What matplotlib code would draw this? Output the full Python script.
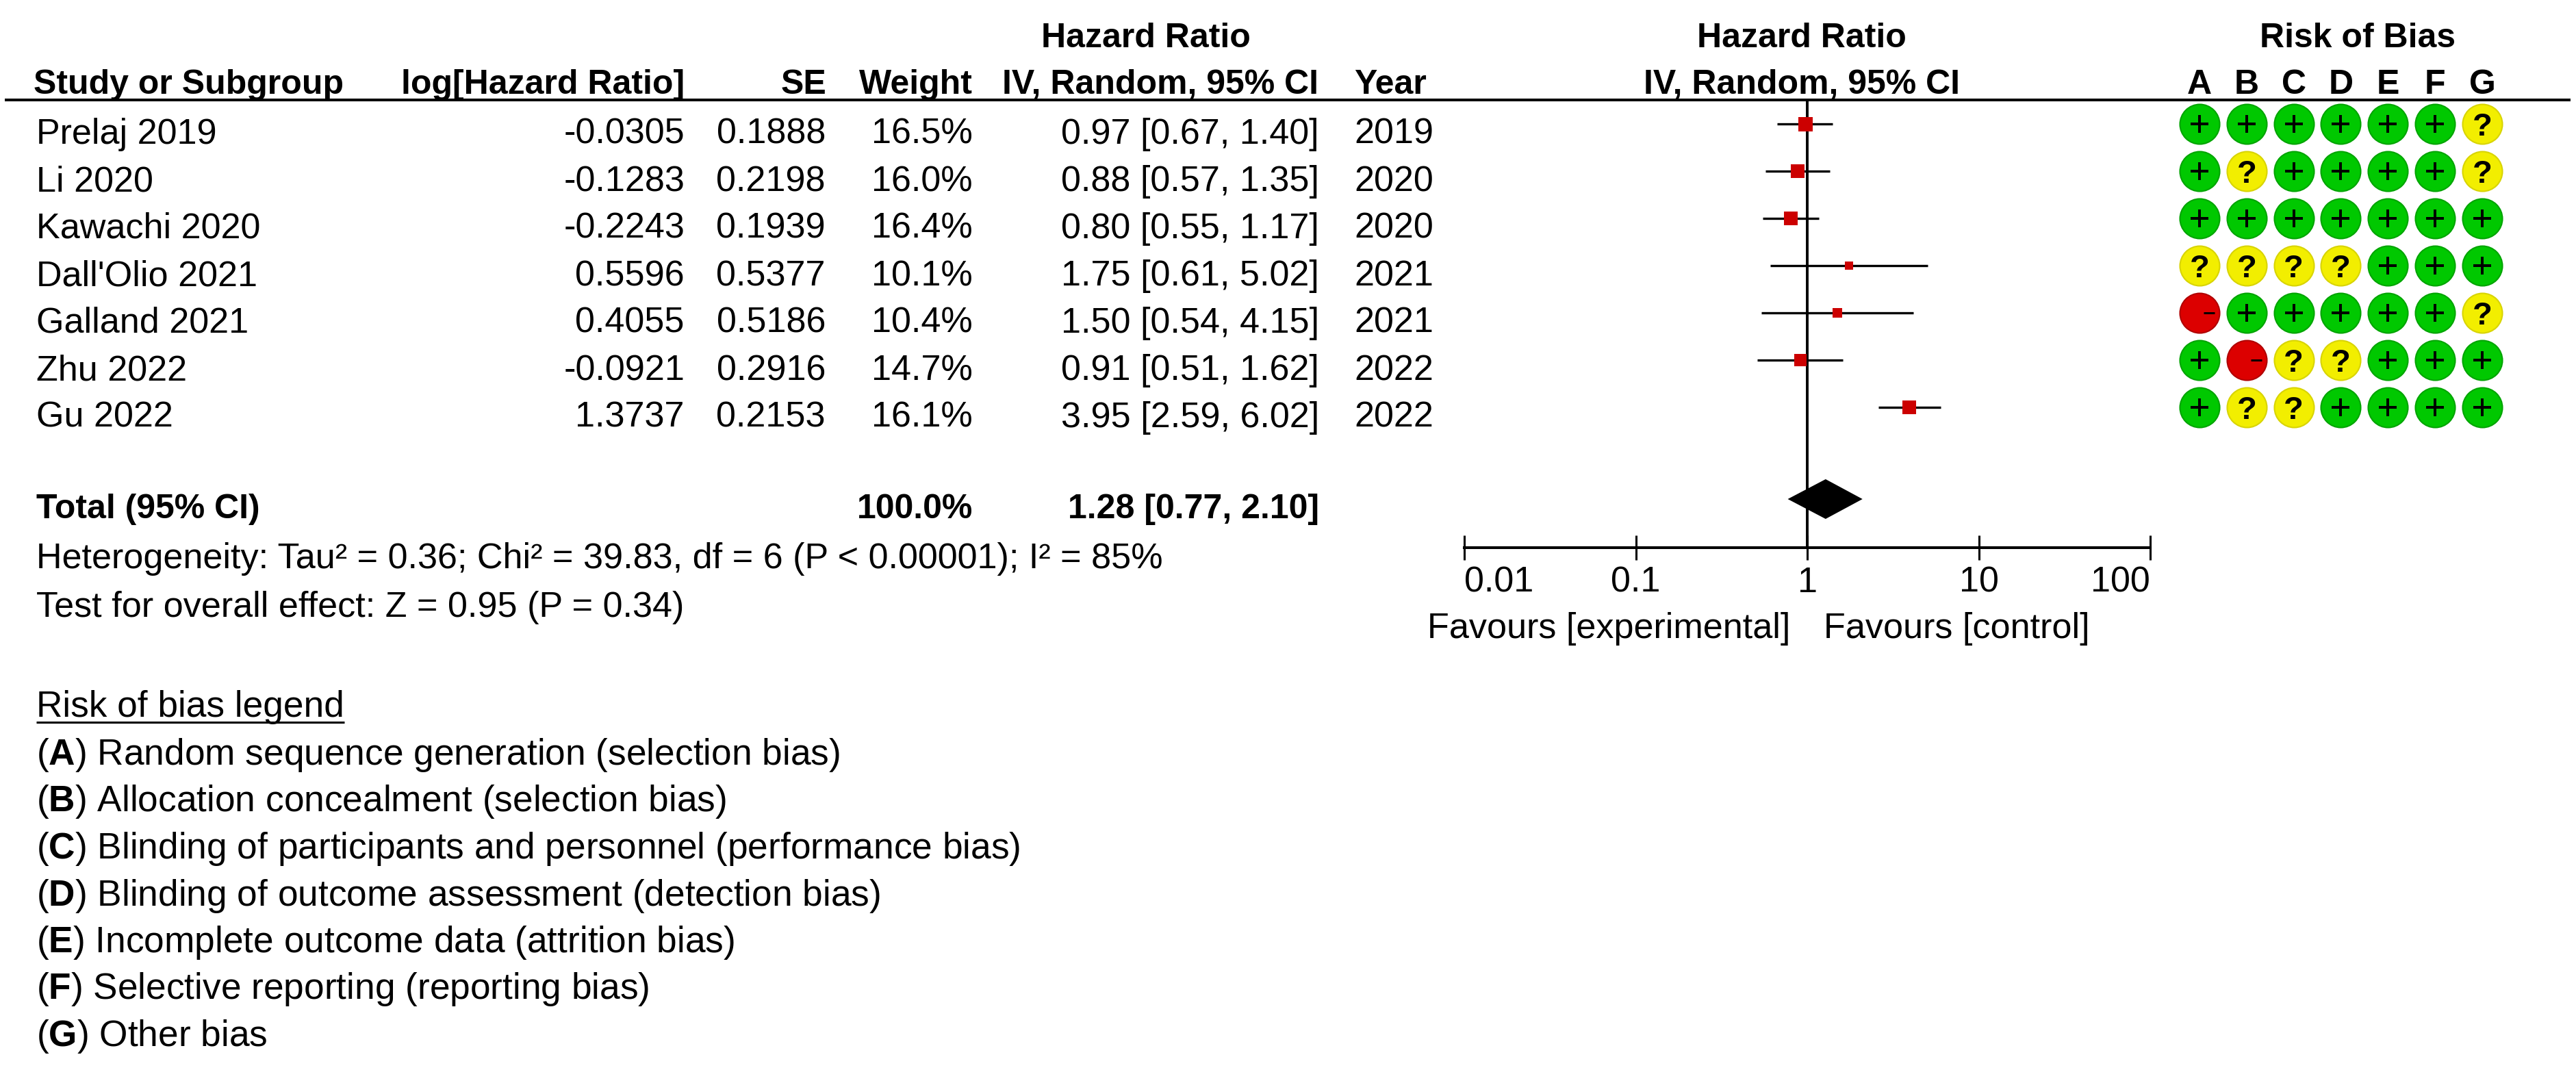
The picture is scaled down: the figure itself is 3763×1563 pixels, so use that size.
import matplotlib
matplotlib.use("Agg")
import matplotlib.pyplot as plt
from matplotlib.ticker import NullLocator
from matplotlib.transforms import ScaledTranslation

plt.rcParams['font.family'] = ['Liberation Sans', 'DejaVu Sans']
plt.rcParams['mathtext.fontset'] = 'custom'
plt.rcParams['mathtext.rm'] = 'Liberation Sans'
plt.rcParams['mathtext.bf'] = 'Liberation Sans:bold'

# ---------------- data ----------------
studies = ["Prelaj 2019", "Li 2020", "Kawachi 2020", "Dall'Olio 2021",
           "Galland 2021", "Zhu 2022", "Gu 2022"]
log_hr = ["-0.0305", "-0.1283", "-0.2243", "0.5596", "0.4055", "-0.0921", "1.3737"]
se = ["0.1888", "0.2198", "0.1939", "0.5377", "0.5186", "0.2916", "0.2153"]
weight = [16.5, 16.0, 16.4, 10.1, 10.4, 14.7, 16.1]
hr = [0.97, 0.88, 0.80, 1.75, 1.50, 0.91, 3.95]
ci_low = [0.67, 0.57, 0.55, 0.61, 0.54, 0.51, 2.59]
ci_high = [1.40, 1.35, 1.17, 5.02, 4.15, 1.62, 6.02]
years = [2019, 2020, 2020, 2021, 2021, 2022, 2022]

total_weight = 100.0
total_hr = 1.28
total_low = 0.77
total_high = 2.10

heterogeneity = "Heterogeneity: Tau\u00b2 = 0.36; Chi\u00b2 = 39.83, df = 6 (P < 0.00001); I\u00b2 = 85%"
overall_test = "Test for overall effect: Z = 0.95 (P = 0.34)"

axis_ticks = [0.01, 0.1, 1, 10, 100]
axis_tick_labels = ["0.01", "0.1", "1", "10", "100"]
favours_left = "Favours [experimental]"
favours_right = "Favours [control]"

rob_domains = ["A", "B", "C", "D", "E", "F", "G"]
rob = [
    "++++++?",
    "+?++++?",
    "+++++++",
    "????+++",
    "-+++++?",
    "+-??+++",
    "+??++++",
]
legend_letters = ["A", "B", "C", "D", "E", "F", "G"]
legend_texts = [
    "Random sequence generation (selection bias)",
    "Allocation concealment (selection bias)",
    "Blinding of participants and personnel (performance bias)",
    "Blinding of outcome assessment (detection bias)",
    "Incomplete outcome data (attrition bias)",
    "Selective reporting (reporting bias)",
    "Other bias",
]

# ---------------- layout ----------------
W, H = 3763, 1563
FS = 37.5    # regular text
FSB = 36     # bold text
FSL = 38.3   # legend text
fig = plt.figure(figsize=(W / 100, H / 100), dpi=100)
bg = fig.add_axes([0, 0, 1, 1])
bg.set_xlim(0, W)
bg.set_ylim(H, 0)
bg.axis('off')

CAP = 17  # half cap height in px -> baseline offset


def txt(x, yc, s, ha='left', bold=False, size=None):
    if size is None:
        size = FSB if bold else FS
    return bg.text(x, yc + CAP, s, ha=ha, va='baseline', fontsize=size,
                   fontweight='bold' if bold else 'normal', color='black')


ROW0, ROWSTEP = 193, 69.0

# headers
txt(1674, 52, "Hazard Ratio", ha='center', bold=True)
txt(2632, 52, "Hazard Ratio", ha='center', bold=True)
txt(3444, 52, "Risk of Bias", ha='center', bold=True)
txt(49, 120, "Study or Subgroup", bold=True)
txt(1000, 120, "log[Hazard Ratio]", ha='right', bold=True)
txt(1207, 120, "SE", ha='right', bold=True)
txt(1421, 120, "Weight", ha='right', bold=True)
txt(1926, 120, "IV, Random, 95% CI", ha='right', bold=True)
txt(1978, 120, "Year", bold=True)
txt(2632, 120, "IV, Random, 95% CI", ha='center', bold=True)
bg.plot([7, 3755], [146, 146], color='black', lw=2.9, solid_capstyle='butt')

for i in range(len(studies)):
    yc = ROW0 + ROWSTEP * i
    txt(53, yc, studies[i])
    txt(1000, yc, log_hr[i], ha='right')
    txt(1206, yc, se[i], ha='right')
    txt(1421, yc, f"{weight[i]:.1f}%", ha='right')
    txt(1927, yc, f"{hr[i]:.2f} [{ci_low[i]:.2f}, {ci_high[i]:.2f}]", ha='right')
    txt(1978, yc, str(years[i]))

txt(53, 740, "Total (95% CI)", bold=True)
txt(1421, 740, f"{total_weight:.1f}%", ha='right', bold=True)
txt(1927, 740, f"{total_hr:.2f} [{total_low:.2f}, {total_high:.2f}]", ha='right', bold=True)
txt(53, 813, heterogeneity)
txt(53, 884, overall_test)

leg_title = txt(53, 1030, "Risk of bias legend", size=FSL)
for k, (L, t) in enumerate(zip(legend_letters, legend_texts)):
    txt(53, 1100 + 68.5 * k, r"($\mathbf{" + L + r"}$) " + t, size=FSL)

txt(2615, 915, favours_left, ha='right')
txt(2664, 915, favours_right)

# ---------------- forest plot ----------------
fx0, fx1, fy0, fy1 = 2139, 3141, 146, 800
ax = fig.add_axes([fx0 / W, 1 - fy1 / H, (fx1 - fx0) / W, (fy1 - fy0) / H])
ax.patch.set_alpha(0)
ax.set_xscale('log')
ax.set_xlim(axis_ticks[0], axis_ticks[-1])
ax.set_ylim(fy1, fy0)
for s in ['top', 'left', 'right']:
    ax.spines[s].set_visible(False)
ax.spines['bottom'].set_linewidth(2.9)
ax.set_yticks([])
ax.set_xticks(axis_ticks)
ax.set_xticklabels(axis_tick_labels)
ax.xaxis.set_minor_locator(NullLocator())
ax.tick_params(axis='x', direction='inout', length=26.6, width=2.2,
               labelsize=FS, pad=6, colors='black')
tl = ax.get_xticklabels()
tl[0].set_ha('left')
tl[-1].set_ha('right')
ax.axvline(1, color='black', lw=2.8, zorder=1)

MK0 = ROW0 - 12
for i in range(len(studies)):
    y = MK0 + ROWSTEP * i
    ax.hlines(y, ci_low[i], ci_high[i], color='black', lw=2.4, zorder=2)
    side = 21.0 * weight[i] / 16.5
    ax.scatter([hr[i]], [y], marker='s', s=(side * 0.72) ** 2,
               color='#cc0000', linewidths=0, zorder=3)

yd = 729
ax.fill([total_low, total_hr, total_high, total_hr],
        [yd, yd - 29, yd, yd + 29], color='black', zorder=3, lw=0)

# ---------------- risk of bias ----------------
colx0, colstep = 3213, 68.83
rx0 = colx0 - colstep / 2
rx1 = colx0 + colstep * 6.5
ax2 = fig.add_axes([rx0 / W, 1 - fy1 / H, (rx1 - rx0) / W, (fy1 - fy0) / H])
ax2.set_xlim(-0.5, 6.5)
ax2.set_ylim(fy1, fy0)
ax2.axis('off')

fill_col = {'+': '#00c800', '?': '#f2ee00', '-': '#dc0000'}
edge_col = {'+': '#00a400', '?': '#d8d400', '-': '#b00000'}
for j, L in enumerate(rob_domains):
    ax2.text(j, 137, L, ha='center', va='baseline', fontsize=FSB, fontweight='bold')

minus_tr = ax2.transData + ScaledTranslation(0.14, 0, fig.dpi_scale_trans)
FSQ = 34
for i, row in enumerate(rob):
    y = MK0 + ROWSTEP * i
    for j, v in enumerate(row):
        ax2.scatter([j], [y], s=(58 * 0.72) ** 2, color=fill_col[v],
                    edgecolors=edge_col[v], linewidths=1.5, zorder=2)
        if v == '+':
            ax2.scatter([j], [y], marker='+', s=(26 * 0.72) ** 2, color='black',
                        linewidths=4 * 0.72, zorder=3)
        elif v == '?':
            ax2.annotate('?', (j, y), xytext=(0, -0.36 * FSQ), textcoords='offset points',
                         ha='center', va='baseline', fontsize=FSQ, fontweight='bold',
                         color='black', zorder=3)
        else:
            ax2.scatter([j], [y], marker='_', s=(16 * 0.72) ** 2, color='black',
                        linewidths=3 * 0.72, zorder=3, transform=minus_tr)

# underline for legend title
fig.canvas.draw()
bb = leg_title.get_window_extent(fig.canvas.get_renderer())
inv = bg.transData.inverted()
(x0, _), (x1, _) = inv.transform([[bb.x0, bb.y0], [bb.x1, bb.y0]])
bg.plot([x0, x1], [1055, 1055], color='black', lw=2.2, solid_capstyle='butt')

fig.savefig("out.png", dpi=100, facecolor='white')
